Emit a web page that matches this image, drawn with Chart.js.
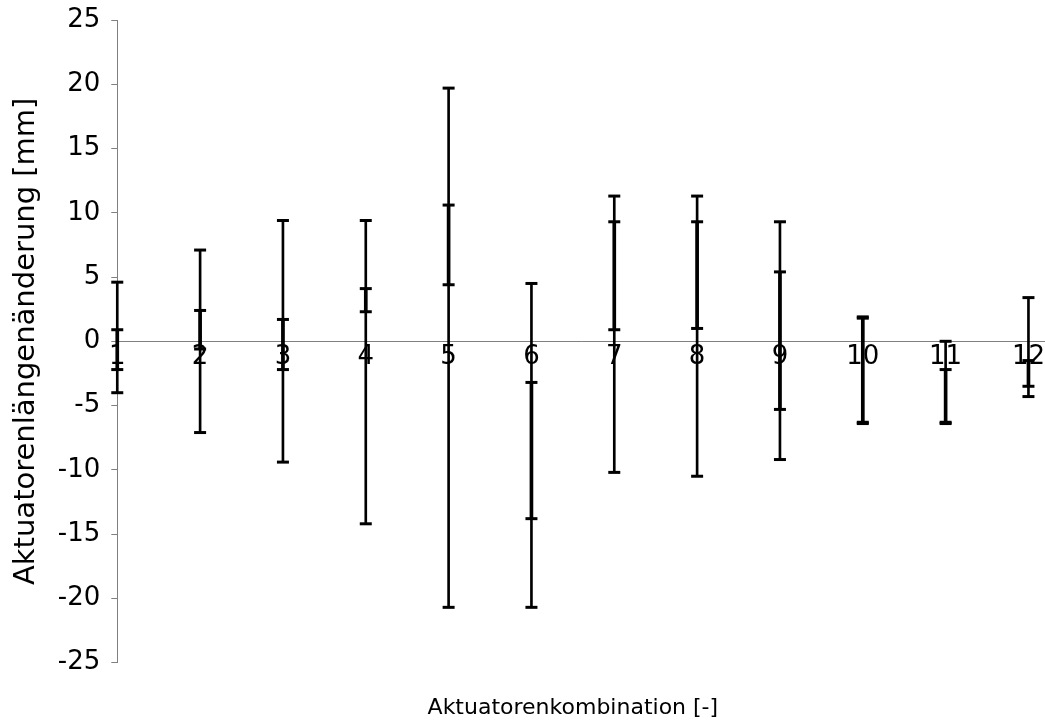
<!DOCTYPE html>
<html>
<head>
<meta charset="utf-8">
<script src="https://cdn.jsdelivr.net/npm/chart.js@4/dist/chart.umd.min.js"></script>
<style>
  html, body { margin: 0; padding: 0; background: #fff; }
  #wrap { width: 1045px; height: 722px; position: relative; }
</style>
</head>
<body>
<div id="wrap"><canvas id="chart"></canvas></div>
<script>
// values
const categories = ['1', '2', '3', '4', '5', '6', '7', '8', '9', '10', '11', '12'];
const rangeMax  = [4.6, 7.1, 9.4, 9.4, 19.7, 4.5, 11.3, 11.3, 9.3, 1.9, 0.0, 3.4];
const rangeMin  = [-4.0, -7.1, -9.4, -14.2, -20.7, -20.7, -10.2, -10.5, -9.2, -6.4, -6.4, -4.3];
const innerHigh = [0.9, 2.4, 1.7, 4.1, 10.6, -3.2, 9.3, 9.3, 5.4, 1.8, -2.2, -1.5];
const innerLow  = [-2.2, -0.6, -2.2, 2.3, 4.4, -13.8, 0.9, 1.0, -5.3, -6.3, -6.3, -3.5];
const yTicks = [-25, -20, -15, -10, -5, 0, 5, 10, 15, 20, 25];

const FONT = 'Verdana, "DejaVu Sans", sans-serif';
const AXIS_GREY = '#808080';

// horizontal marks at every value of each category
const markPoints = categories.flatMap((c, i) =>
    [rangeMax[i], innerHigh[i], innerLow[i], rangeMin[i]].map(v => ({ x: c, y: v }))
);

// extend the zero line to the right edge, like the original
const zeroLinePlugin = {
    id: 'zeroLine',
    beforeDatasetsDraw(chart) {
        const { ctx, scales } = chart;
        const y = Math.round(scales.y.getPixelForValue(0)) + 0.5;
        ctx.save();
        ctx.strokeStyle = AXIS_GREY;
        ctx.lineWidth = 1;
        ctx.beginPath();
        ctx.moveTo(scales.x.left, y);
        ctx.lineTo(chart.width, y);
        ctx.stroke();
        ctx.restore();
    }
};

new Chart(document.getElementById('chart'), {
    data: {
        labels: categories,
        datasets: [
            {
                type: 'bar',
                data: categories.map((c, i) => [rangeMin[i], rangeMax[i]]),
                backgroundColor: '#000',
                barThickness: 2,
                grouped: false,
                clip: false,
                order: 3
            },
            {
                type: 'bar',
                data: categories.map((c, i) => [innerLow[i], innerHigh[i]]),
                backgroundColor: '#000',
                barThickness: 3,
                grouped: false,
                clip: false,
                order: 2
            },
            {
                type: 'line',
                data: markPoints,
                showLine: false,
                pointStyle: 'line',
                pointRadius: 6,
                pointHoverRadius: 6,
                pointBorderWidth: 3,
                borderColor: '#000',
                backgroundColor: '#000',
                clip: false,
                order: 1
            }
        ]
    },
    options: {
        responsive: true,
        maintainAspectRatio: false,
        animation: false,
        events: [],
        layout: { padding: { top: 0, right: 14, left: 0, bottom: 0 } },
        plugins: {
            legend: { display: false },
            tooltip: { enabled: false }
        },
        scales: {
            x: {
                type: 'category',
                offset: false,
                position: { y: 0 },
                grid: { display: false, drawTicks: false },
                border: { display: false },
                ticks: {
                    color: '#000',
                    font: { family: FONT, size: 26 },
                    padding: 0,
                    maxRotation: 0,
                    autoSkip: false
                }
            },
            // bottom axis only carries the title, centred under the plot area
            xTitle: {
                type: 'category',
                position: 'bottom',
                display: true,
                offset: false,
                grid: { display: false, drawTicks: false },
                border: { display: false },
                ticks: { display: false },
                title: {
                    display: true,
                    text: 'Aktuatorenkombination [-]',
                    color: '#000',
                    font: { family: FONT, size: 22 },
                    padding: { top: 32, bottom: 1 }
                }
            },
            y: {
                min: -25,
                max: 25,
                afterBuildTicks: (axis) => { axis.ticks = yTicks.map(v => ({ value: v })); },
                afterFit: (axis) => { axis.paddingTop = 20; },
                grid: { drawOnChartArea: false, drawTicks: true, tickLength: 6, color: AXIS_GREY },
                border: { display: true, color: AXIS_GREY, width: 1 },
                ticks: {
                    color: '#000',
                    font: { family: FONT, size: 26 },
                    padding: 11
                },
                title: {
                    display: true,
                    text: 'Aktuatorenlängenänderung [mm]',
                    color: '#000',
                    font: { family: FONT, size: 29 },
                    padding: { top: 9, bottom: 3 }
                }
            }
        }
    },
    plugins: [zeroLinePlugin]
});
</script>
</body>
</html>
